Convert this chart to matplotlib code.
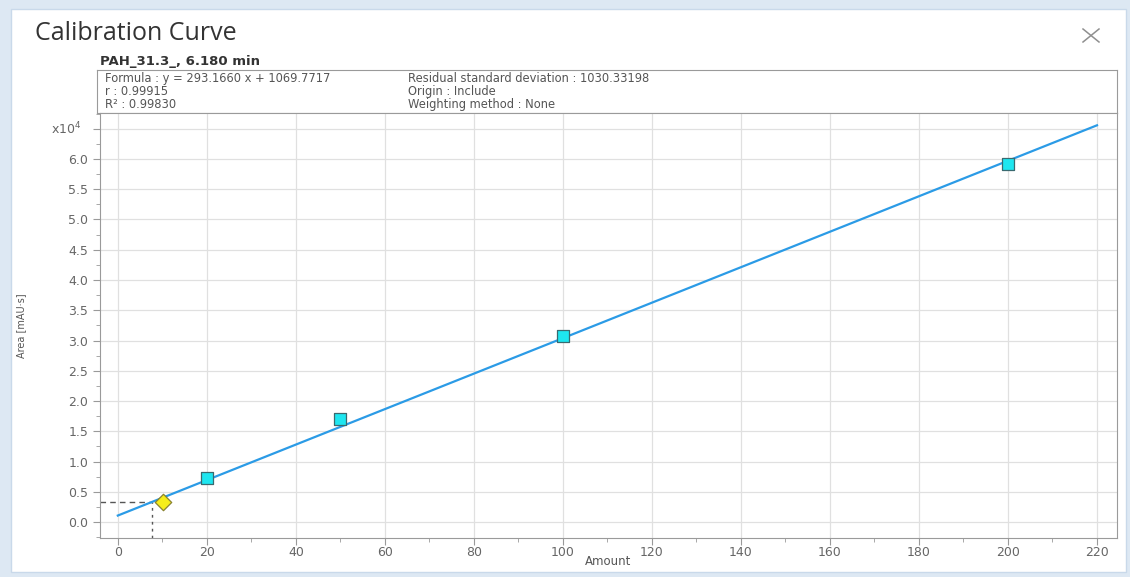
import numpy as np
import matplotlib.pyplot as plt
from matplotlib.lines import Line2D
from matplotlib.patches import Rectangle
from matplotlib.ticker import MultipleLocator, FixedLocator, FixedFormatter

# Calibration standards (amount vs. peak area)
amount = [20, 50, 100, 200]
area = [7270, 17000, 30700, 59200]

# Fitted line reported by the software
slope = 293.1660
intercept = 1069.7717
fit_range = [0, 220]

# Unknown sample
sample_amount = 10.1
sample_area = 3360
guide_amount = 7.6

formula_lines = "Formula : y = 293.1660 x + 1069.7717\nr : 0.99915\nR\u00b2 : 0.99830"
stats_lines = "Residual standard deviation : 1030.33198\nOrigin : Include\nWeighting method : None"

y_ticks = [0.0, 0.5, 1.0, 1.5, 2.0, 2.5, 3.0, 3.5, 4.0, 4.5, 5.0, 5.5, 6.0, 6.5]
y_tick_labels = ["%.1f" % v for v in y_ticks[:-1]] + [""]
x_ticks = list(range(0, 221, 20))

W, H = 1130, 577
fig = plt.figure(figsize=(W / 100, H / 100), dpi=100)
fig.patch.set_facecolor("#dde8f3")


def px_box(x0, y0, x1, y1):
    # pixel box (top-left origin) -> figure fraction [left, bottom, width, height]
    return [x0 / W, 1 - y1 / H, (x1 - x0) / W, (y1 - y0) / H]


# dialog window behind everything
l, b, w, h = px_box(11, 9, 1126, 572)
fig.patches.append(Rectangle((l, b), w, h, transform=fig.transFigure, zorder=-10,
                             facecolor="white", edgecolor="#c9d9ea", linewidth=1.0))

fig.text(35 / W, 1 - 33 / H, "Calibration Curve", fontsize=18, color="#333333",
         family="Open Sans", va="center", ha="left")

# thin close cross in the corner
for (xa, ya, xb, yb) in [(1083, 29, 1099, 42), (1083, 42, 1099, 29)]:
    fig.lines.append(Line2D([xa / W, xb / W], [1 - ya / H, 1 - yb / H],
                            transform=fig.transFigure, color="#8f8f8f", linewidth=1.1))

fig.text(100 / W, 1 - 62 / H, "PAH_31.3_, 6.180 min", fontsize=9.5, color="#333333",
         weight="bold", va="center", ha="left")

# header box with regression info
info = fig.add_axes(px_box(97, 70, 1117, 113))
info.set_xticks([])
info.set_yticks([])
for s in info.spines.values():
    s.set_color("#9a9a9a")
info.text(8 / 1020, 0.95, formula_lines, fontsize=8.3, color="#555555",
          va="top", ha="left", linespacing=1.0, transform=info.transAxes)
info.text(311 / 1020, 0.95, stats_lines, fontsize=8.3, color="#555555",
          va="top", ha="left", linespacing=1.0, transform=info.transAxes)

# main calibration plot
ax = fig.add_axes(px_box(100, 113, 1117, 538))
ax.set_xlim(-4, 224.5)
ax.set_ylim(-0.264e4, 6.76e4)

x_fit = np.array(fit_range)
ax.plot(x_fit, slope * x_fit + intercept, color="#2b9be6", linewidth=1.6, zorder=3)
ax.scatter(amount, area, marker="s", s=70, facecolor="#1ee6f0", edgecolor="#3a6a70",
           linewidth=0.9, zorder=4)

guide_area = slope * guide_amount + intercept
ax.plot([-4, guide_amount], [guide_area, guide_area], color="#555555",
        linestyle=(0, (4, 3)), linewidth=1.0, zorder=2)
ax.plot([guide_amount, guide_amount], [-0.264e4, guide_area], color="#555555",
        linestyle=(0, (2, 3)), linewidth=1.0, zorder=2)
ax.scatter([sample_amount], [sample_area], marker="D", s=70, facecolor="#f6ee1a",
           edgecolor="#8a8330", linewidth=0.9, zorder=5)

ax.xaxis.set_major_locator(FixedLocator(x_ticks))
ax.xaxis.set_minor_locator(MultipleLocator(10))
ax.yaxis.set_major_locator(FixedLocator([v * 1e4 for v in y_ticks]))
ax.yaxis.set_major_formatter(FixedFormatter(y_tick_labels))
ax.yaxis.set_minor_locator(MultipleLocator(0.25e4))

ax.grid(True, which="major", color="#e0e0e0", linewidth=0.9)
ax.set_axisbelow(True)
ax.tick_params(which="both", direction="out", colors="#9a9a9a", labelcolor="#666666",
               labelsize=9)
ax.tick_params(which="major", length=5)
ax.tick_params(which="minor", length=3)
ax.tick_params(axis="x", pad=1)
for s in ax.spines.values():
    s.set_color("#9a9a9a")

ax.set_xlabel("Amount", fontsize=8.5, color="#555555", labelpad=-3)
ax.set_ylabel("Area [mAU\u00b7s]", fontsize=7, color="#555555", labelpad=30)
ax.text(-0.018, 6.5e4, "x10$^{4}$", transform=ax.get_yaxis_transform(),
        fontsize=9, color="#666666", ha="right", va="center")

fig.savefig("out.png", dpi=100, facecolor=fig.get_facecolor())
